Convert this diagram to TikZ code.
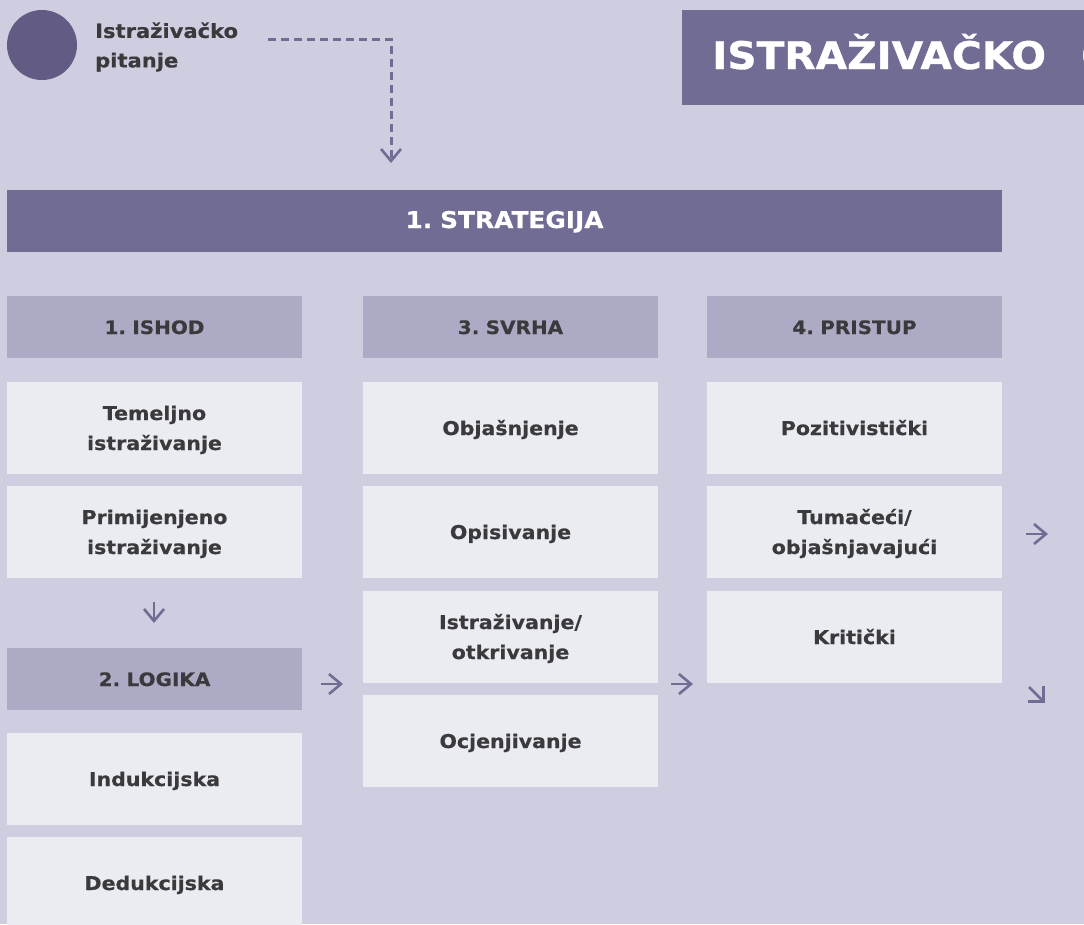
\documentclass[tikz,border=0pt]{standalone}
\usepackage{fontspec}
\setmainfont[FakeStretch=1.08,BoldFeatures={FakeBold=0.5}]{DejaVu Sans}
\newfontfamily\bigf[FakeStretch=1.07,BoldFeatures={FakeBold=1}]{DejaVu Sans}
\usetikzlibrary{arrows.meta}
\definecolor{bgc}{HTML}{CFCEE0}
\definecolor{darkc}{HTML}{706C94}
\definecolor{midc}{HTML}{ADAAC6}
\definecolor{lightc}{HTML}{EBECF2}
\definecolor{circc}{HTML}{625C85}
\definecolor{txtc}{HTML}{3A3A3C}
\newcommand\topstrutx{\spaceskip=0.22em\relax\rule{0pt}{20pt}}
\newcommand\topstruty{\spaceskip=0.22em\relax\rule{0pt}{50pt}}
\newcommand\botstrutx{\rule[-6pt]{0pt}{6pt}}
\tikzset{
 boxbase/.style={anchor=north west,inner sep=0pt,outer sep=0pt,minimum width=295pt,align=center,text=txtc,font=\fontsize{19}{30}\selectfont\bfseries,execute at begin node=\topstrutx,execute at end node=\botstrutx},
 cell/.style={boxbase,fill=lightc,minimum height=92pt},
 twoline/.style={cell,execute at begin node=\topstruty},
 head/.style={boxbase,fill=midc,minimum height=62pt,font=\fontsize{18.5}{30}\selectfont\bfseries},
 banner/.style={boxbase,fill=darkc,minimum width=995pt,minimum height=62pt,text=white,font=\fontsize{23}{30}\selectfont\bfseries},
 flow/.style={draw=darkc,line width=2.6pt,-{Straight Barb[length=12pt,width=20pt,line width=2.6pt]}},
 diag/.style={draw=darkc,line width=2.8pt,-{Straight Barb[length=11pt,width=22pt,line width=2.8pt]}},
}
\begin{document}
\begin{tikzpicture}[x=1pt,y=-1pt]
\useasboundingbox (0,0) rectangle (1084,924);
\clip (0,0) rectangle (1084,924);
\fill[bgc] (0,0) rectangle (1084,924);
\node[circle,fill=circc,minimum size=70pt,inner sep=0pt,anchor=center] (dot) at (42,45) {};
\node[anchor=west,inner sep=0pt,align=left,text=txtc,font=\fontsize{19.5}{29.5}\selectfont\bfseries] (q) at (95,47) {Istraživačko\\pitanje};
\node[anchor=north west,inner sep=0pt,outer sep=0pt,fill=darkc,minimum width=402pt,minimum height=95pt] (title) at (682,10) {};
\node[anchor=base west,inner sep=0pt,text=white,font=\fontsize{38}{40}\selectfont\bigf\bfseries] (titletext) at (712,69) {ISTRAŽIVAČKO};
\node[anchor=base west,inner sep=0pt,text=white,font=\fontsize{38}{40}\selectfont\bigf\bfseries] (titlemore) at (1081,69) {O};
\node[banner] (strat) at (7,190) {1. STRATEGIJA};
\node[head] (ishod) at (7,296) {1. ISHOD};
\node[head] (svrha) at (363,296) {3. SVRHA};
\node[head] (pristup) at (707,296) {4. PRISTUP};
\node[twoline] (a1) at (7,382) {Temeljno\\istraživanje};
\node[twoline] (a2) at (7,486) {Primijenjeno\\istraživanje};
\node[head] (logika) at (7,648) {2. LOGIKA};
\node[cell] (a3) at (7,733) {Indukcijska};
\node[cell] (a4) at (7,837) {Dedukcijska};
\node[cell] (b1) at (363,382) {Objašnjenje};
\node[cell] (b2) at (363,486) {Opisivanje};
\node[twoline] (b3) at (363,591) {Istraživanje/\\otkrivanje};
\node[cell] (b4) at (363,695) {Ocjenjivanje};
\node[cell] (c1) at (707,382) {Pozitivistički};
\node[twoline] (c2) at (707,486) {Tumačeći/\\objašnjavajući};
\node[cell] (c3) at (707,591) {Kritički};
\coordinate (d0) at (268,39);
\coordinate (d1) at (391,39);
\coordinate (d2) at (391,163);
\draw[flow,line width=3pt,dash pattern=on 8pt off 5pt] (d0) -- (d1) -- (d2);
\coordinate (e0) at (154,602); \coordinate (e1) at (154,623);
\draw[flow] (e0) -- (e1);
\coordinate (f0) at (321,684); \coordinate (f1) at (343,684);
\draw[flow] (f0) -- (f1);
\coordinate (g0) at (671,684); \coordinate (g1) at (693,684);
\draw[flow] (g0) -- (g1);
\coordinate (h0) at (1026,534); \coordinate (h1) at (1048,534);
\draw[flow] (h0) -- (h1);
\coordinate (i0) at (1029,687); \coordinate (i1) at (1045,703);
\draw[diag] (i0) -- (i1);
\end{tikzpicture}
\end{document}
